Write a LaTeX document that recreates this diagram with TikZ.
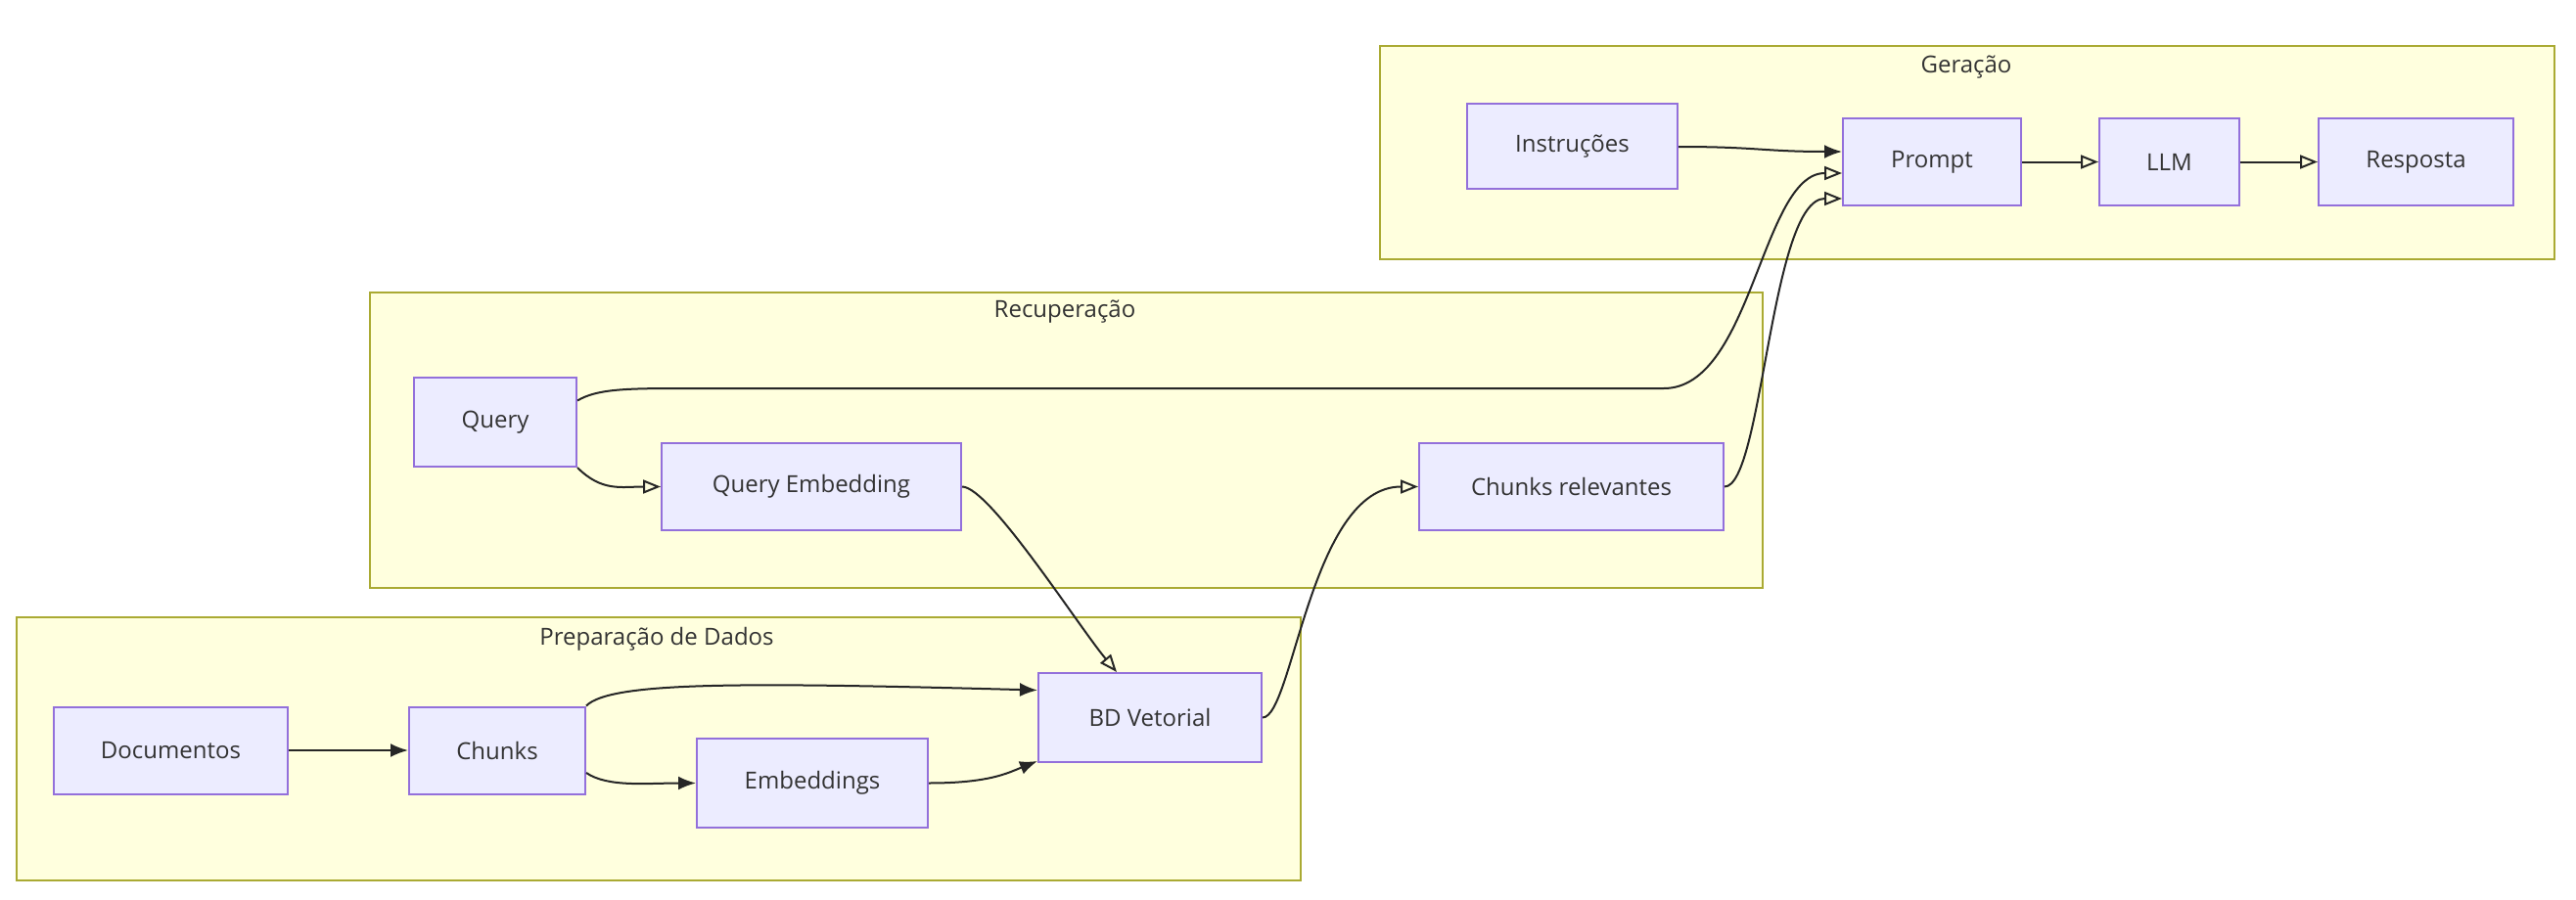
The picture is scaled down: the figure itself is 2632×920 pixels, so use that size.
\documentclass[tikz,border=0pt]{standalone}
\usepackage{fontspec}
\setmainfont{Open Sans}
\usetikzlibrary{arrows.meta,calc}
\definecolor{nodefill}{HTML}{ECECFF}
\definecolor{nodestroke}{HTML}{9370DB}
\definecolor{clfill}{HTML}{FFFFDE}
\definecolor{clstroke}{HTML}{AAAA33}
\definecolor{txt}{HTML}{333333}
\begin{document}
\begin{tikzpicture}[x=0.5pt,y=-0.5pt,
  box/.style={draw=nodestroke,fill=nodefill,line width=1pt,minimum height=44.5pt,inner sep=0pt,text=txt,font=\fontsize{12}{14}\selectfont},
  cluster/.style={draw=clstroke,fill=clfill,line width=1pt},
  cltitle/.style={text=txt,font=\fontsize{12}{14}\selectfont,inner sep=0pt},
  edge/.style={draw=black!85,line width=1pt},
  solidarrow/.style={edge,-{Latex[length=9pt,width=7pt]}},
  openarrow/.style={edge,-{Triangle[open,length=9pt,width=7pt]}}]
\useasboundingbox (0,0) rectangle (2632,920);
\fill[white] (0,0) rectangle (2632,920);
% clusters
\draw[cluster] (1410,47) rectangle (2610,265);
\draw[cluster] (378,299) rectangle (1801,601);
\draw[cluster] (17,631) rectangle (1329,900);
\node[cltitle] (tger) at (2009,69) {Geração};
\node[cltitle] (trec) at (1088,319) {Recuperação};
\node[cltitle] (tprep) at (671,653) {Preparação de Dados};
% nodes
\node[box,minimum width=107.5pt,minimum height=43.5pt] (instr) at (1606.5,149.5) {Instruções};
\node[box,minimum width=91pt] (prompt) at (1974,165.5) {Prompt};
\node[box,minimum width=71.5pt] (llm) at (2216.5,165.5) {LLM};
\node[box,minimum width=99.5pt] (resp) at (2468.5,165.5) {Resposta};
\node[box,minimum width=83pt,minimum height=45.5pt] (query) at (506,431.5) {Query};
\node[box,minimum width=153pt] (qemb) at (829,497.5) {Query Embedding};
\node[box,minimum width=155.5pt] (crel) at (1605.5,497.5) {Chunks relevantes};
\node[box,minimum width=119.5pt] (docs) at (174.5,767) {Documentos};
\node[box,minimum width=90pt] (chunks) at (508,767) {Chunks};
\node[box,minimum width=118pt,minimum height=45.5pt] (emb) at (830,800.5) {Embeddings};
\node[box,minimum width=114pt,minimum height=45.5pt] (bd) at (1175,733.5) {BD Vetorial};
% edges
\draw[solidarrow] (docs.east) -- (chunks.west);
\draw[solidarrow] (chunks.north east) .. controls +(25,-25) and +(-300,-8) .. ($(bd.west)+(0,-28)$);
\draw[solidarrow] ($(chunks.east)+(0,23)$) .. controls +(22,15) and +(-50,0) .. (emb.west);
\draw[solidarrow] (emb.east) .. controls +(62,0) and +(-30,12) .. ($(bd.south west)+(0,-2)$);
\draw[openarrow] (query.south east) .. controls +(25,25) and +(-40,0) .. (qemb.west);
\draw[openarrow] ($(query.east)+(0,-22)$) .. controls +(20,-12) and +(-60,0) .. (700,397) -- (1700,397) .. controls (1790,397) and (1800,177) .. ($(prompt.west)+(0,11.5)$);
\draw[openarrow] (qemb.east) .. controls +(28,0) and +(-40,-48) .. ($(bd.north)+(-34,0)$);
\draw[openarrow] (bd.east) .. controls +(31,0) and +(-110,0) .. (crel.west);
\draw[openarrow] (crel.east) .. controls +(39,0) and +(-73,0) .. ($(prompt.west)+(0,37.5)$);
\draw[solidarrow] ($(instr.east)+(0,0.5)$) .. controls +(80,0) and +(-80,0) .. ($(prompt.west)+(0,-10.5)$);
\draw[openarrow] (prompt.east) -- (llm.west);
\draw[openarrow] (llm.east) -- (resp.west);
\end{tikzpicture}
\end{document}
